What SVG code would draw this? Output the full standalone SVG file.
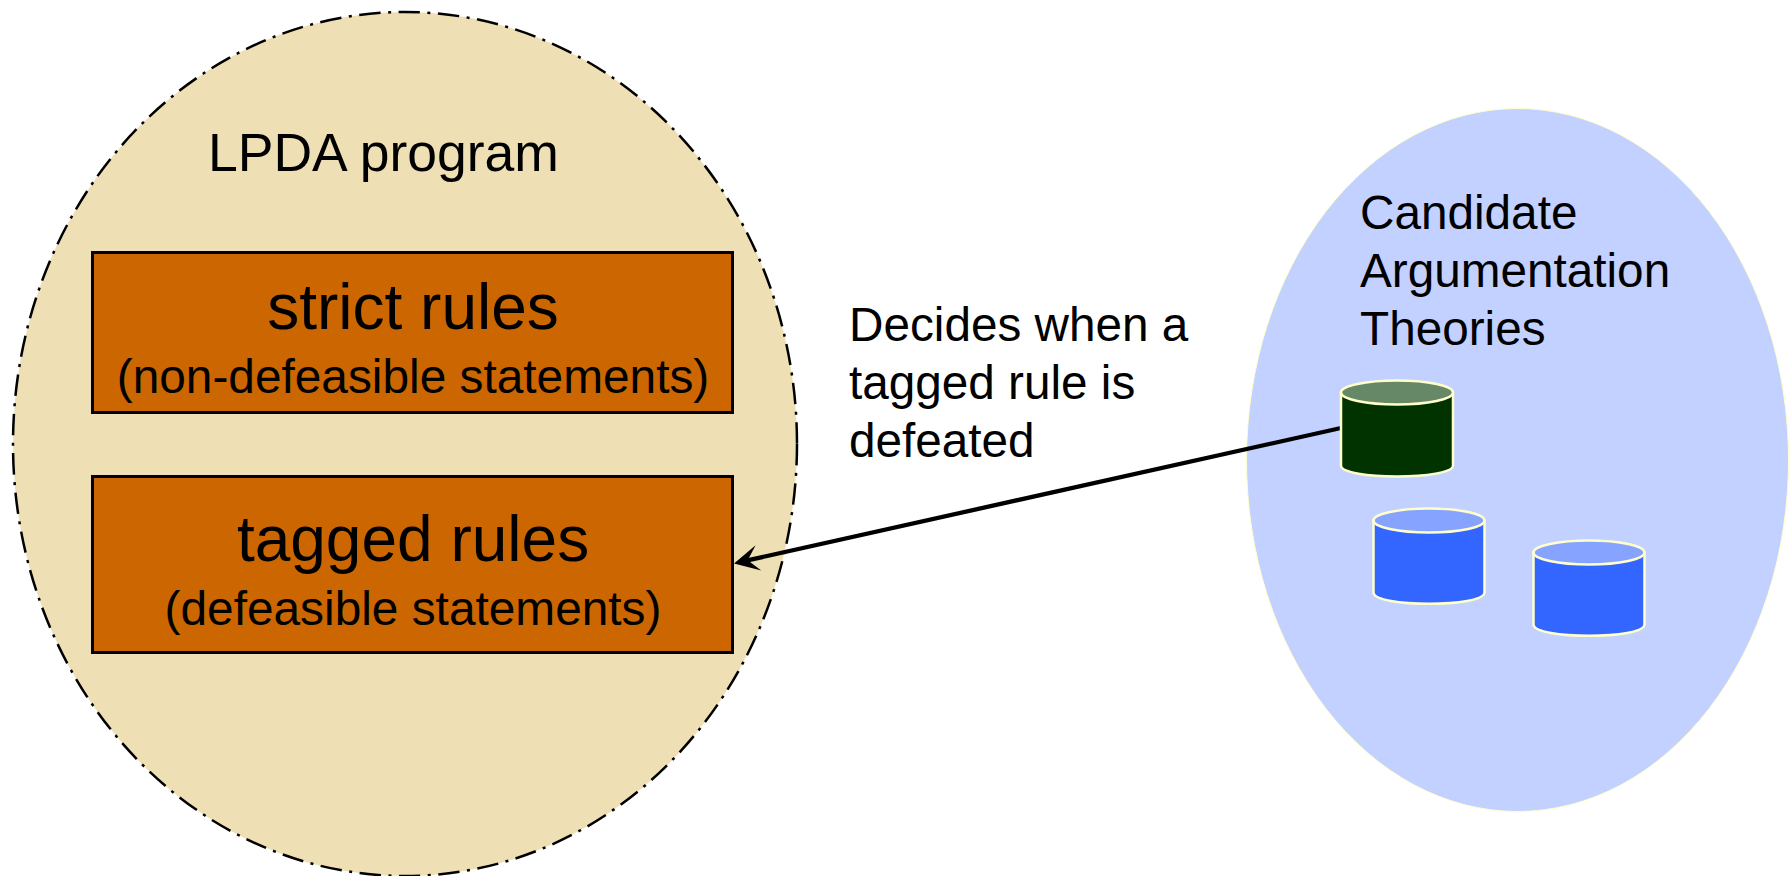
<svg xmlns="http://www.w3.org/2000/svg" width="1792" height="876" viewBox="0 0 1792 876">
<style>
text{font-family:"Liberation Sans",Arial,sans-serif;fill:#000}
.t{font-size:53.500px}.m{font-size:47.700px}.h{font-size:64px}.s{font-size:47.800px}
.c{text-anchor:middle}
.box{fill:#cc6600;stroke:#000;stroke-width:3}
.cyl{stroke:#ffffcc;stroke-width:2.500}
.green{fill:#003300}.gtop{fill:#668866}
.blue{fill:#3366ff}.btop{fill:#85a3ff}
</style>
<defs>
<marker id="arrow" markerUnits="userSpaceOnUse" markerWidth="32" markerHeight="28" refX="18" refY="14" orient="auto" viewBox="0 0 32 28">
<path d="M28 14 L3 1 L14 14 L3 27 Z" fill="#000"/>
</marker>
</defs>
<g id="lpda">
<ellipse cx="405" cy="444" rx="392" ry="432" fill="#eee0b4" stroke="#000" stroke-width="2.500" stroke-dasharray="21.500 7.500 3 7.500"/>
<text class="t c" x="383.500" y="170.500">LPDA program</text>
</g>
<g id="strict">
<rect class="box" x="92.500" y="252.500" width="640" height="160"/>
<text class="h c" x="413" y="329">strict rules</text>
<text class="s c" x="413" y="392.500">(non-defeasible statements)</text>
</g>
<g id="tagged">
<rect class="box" x="92.500" y="476.500" width="640" height="176"/>
<text class="h c" x="413" y="560.500">tagged rules</text>
<text class="s c" x="413" y="624.500">(defeasible statements)</text>
</g>
<g id="candidates">
<ellipse cx="1517.500" cy="460" rx="271" ry="351.500" fill="#c2d1ff" stroke="#ffffcc" stroke-width="1"/>
<text class="m" x="1360" y="229">Candidate</text>
<text class="m" x="1360" y="287">Argumentation</text>
<text class="m" x="1360" y="345">Theories</text>
</g>
<g id="connectors">
<line x1="1341" y1="428" x2="743.800" y2="561.200" stroke="#000" stroke-width="4.300" marker-end="url(#arrow)"/>
</g>
<g id="label">
<text class="m" x="849" y="341">Decides when a</text>
<text class="m" x="849" y="399">tagged rule is</text>
<text class="m" x="849" y="457">defeated</text>
</g>
<g id="cyl1">
<path class="cyl green" d="M1341 392.500 V465.500 C1341 480 1453 480 1453 465.500 V392.500 Z"/>
<ellipse class="cyl gtop" cx="1397" cy="392.500" rx="56" ry="12"/>
</g>
<g id="cyl2">
<path class="cyl blue" d="M1373.500 520.500 V592.500 C1373.500 607.500 1484.500 607.500 1484.500 592.500 V520.500 Z"/>
<ellipse class="cyl btop" cx="1429" cy="520.500" rx="55.500" ry="12"/>
</g>
<g id="cyl3">
<path class="cyl blue" d="M1533.500 552.500 V624.500 C1533.500 639.500 1644.500 639.500 1644.500 624.500 V552.500 Z"/>
<ellipse class="cyl btop" cx="1589" cy="552.500" rx="55.500" ry="12"/>
</g>
</svg>
